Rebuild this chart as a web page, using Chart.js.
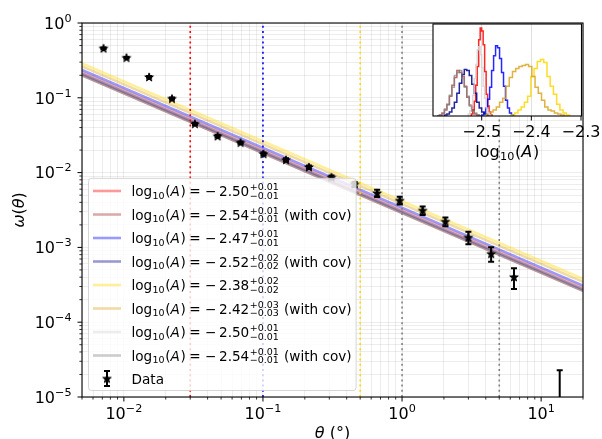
<!DOCTYPE html>
<html>
<head>
<meta charset="utf-8">
<script src="https://cdn.jsdelivr.net/npm/chart.js@4.4.0/dist/chart.umd.min.js"></script>
<style>
  body { margin: 0; background: #fff; }
  #wrap { position: relative; width: 602px; height: 439px; }
  #main { position: absolute; left: 0; top: 0; }
  #inset { position: absolute; left: 420px; top: 0; }
</style>
</head>
<body>
<div id="wrap">
  <canvas id="main" width="602" height="439"></canvas>
  <canvas id="inset" width="182" height="170"></canvas>
</div>
<script>
// measured correlation function, theta in degrees
var theta = [0.00714, 0.01044, 0.01518, 0.02218, 0.0324, 0.0472, 0.069, 0.1009, 0.1465, 0.214,
             0.311, 0.456, 0.662, 0.962, 1.406, 2.05, 3.0, 4.37, 6.38, 13.6];
var omega = [0.459, 0.344, 0.190, 0.0976, 0.0449, 0.0307, 0.0252, 0.0178, 0.01483, 0.01188,
             0.00865, 0.00698, 0.00532, 0.00424, 0.00312, 0.00222, 0.00136, 0.000824, 0.000403, 0.000004];
var omegaErr = [0.01, 0.008, 0.005, 0.003, 0.0015, 0.001, 0.0009, 0.0007, 0.0007, 0.0006,
                0.0005, 0.0005, 0.0006, 0.0005, 0.0004, 0.0003, 0.00026, 0.00018, 0.000125, 0.0000188];

// power law fits  w = A * theta^slope
var fitSlope = -0.8;
var fitLogA = [-2.50, -2.54, -2.47, -2.52, -2.38, -2.42, -2.50, -2.54];
var fitErrUp = [0.01, 0.01, 0.01, 0.02, 0.02, 0.03, 0.01, 0.01];
var fitErrDown = [0.01, 0.01, 0.01, 0.02, 0.02, 0.03, 0.01, 0.01];
var fitCov = [false, true, false, true, false, true, false, true];
var fitColors = ['rgba(255,0,0,0.4)', 'rgba(165,42,42,0.4)', 'rgba(0,0,255,0.4)', 'rgba(0,0,139,0.4)',
                 'rgba(255,215,0,0.4)', 'rgba(218,165,32,0.4)', 'rgba(211,211,211,0.4)', 'rgba(128,128,128,0.4)'];
var histColors = ['rgba(255,0,0,0.85)', 'rgba(165,42,42,0.7)', 'rgba(0,0,255,0.85)', 'rgba(0,0,139,0.85)',
                  'rgba(255,215,0,0.85)', 'rgba(218,165,32,0.85)', 'rgba(211,211,211,0.85)', 'rgba(128,128,128,0.7)'];

// fit ranges
var rangeTheta = [0.03, 0.1, 0.5, 1, 5];
var rangeColors = ['#ff0000', '#0000ff', '#ffd700', '#808080', '#808080'];

// posterior histograms of log10(A)
var histStart = [-2.521, -2.590, -2.500, -2.575, -2.440, -2.490, -2.527, -2.590];
var histBin = [0.003, 0.005, 0.004, 0.005, 0.0065, 0.0065, 0.003, 0.005];
var countsRed = [2, 6, 15, 31, 50, 77, 89, 86, 72, 45, 22, 10, 4, 1];
var countsBrown = [0, 1, 3, 6, 12, 20, 31, 39, 46, 44, 40, 30, 19, 11, 6, 2, 1, 0];
var countsBlue = [1, 3, 8, 17, 29, 46, 61, 71, 69, 58, 44, 30, 16, 8, 3, 1];
var countsNavy = [1, 2, 4, 8, 14, 23, 33, 42, 47, 46, 41, 32, 23, 14, 8, 4, 2, 1];
var countsGold = [1, 3, 6, 9, 14, 20, 40, 48, 55, 57, 54, 40, 30, 22, 12, 6, 3, 1];
var countsGoldenrod = [2, 4, 6, 9, 14, 18, 30, 39, 45, 48, 50, 51, 52, 50, 40, 29, 23, 16, 9, 6, 5, 3, 2, 1];
var countsLightgray = [2, 5, 11, 21, 38, 52, 67, 70, 62, 49, 30, 18, 8, 3, 1];
var countsGray = [0, 1, 2, 7, 11, 21, 29, 41, 44, 46, 38, 29, 20, 10, 5, 3, 1, 0];
var histCounts = [countsRed, countsBrown, countsBlue, countsNavy, countsGold, countsGoldenrod, countsLightgray, countsGray];

// axes
var xRange = [0.005, 20];
var yRange = [1e-5, 1];
var xMajor = [0.01, 0.1, 1, 10];
var xExp = [-2, -1, 0, 1];
var yMajor = [1e-5, 1e-4, 1e-3, 1e-2, 1e-1, 1];
var yExp = [-5, -4, -3, -2, -1, 0];
var insetRange = [-2.598, -2.299];
var insetTicks = [-2.5, -2.4, -2.3];

var FONT = '13.6px "DejaVu Sans"';
var SMALL = '9.5px "DejaVu Sans"';
var ITALIC = 'oblique 13.6px "DejaVu Sans"';
var TICK = '16px "DejaVu Sans"';
var TICK_SMALL = '11.2px "DejaVu Sans"';
var TICK_ITALIC = 'oblique 16px "DejaVu Sans"';

Chart.defaults.font.family = 'DejaVu Sans';
Chart.defaults.color = '#000';

// all 1..9 x 10^n positions inside a range, decades flagged as major
function logTicks(lo, hi) {
  var out = [];
  for (var e = Math.floor(Math.log10(lo)); e <= Math.ceil(Math.log10(hi)); e++) {
    for (var m = 1; m <= 9; m++) {
      var v = m * Math.pow(10, e);
      if (v >= lo * 0.9999 && v <= hi * 1.0001) out.push({ value: v, major: m === 1 });
    }
  }
  return out;
}
function minus(v) { return (v < 0 ? '−' : '') + Math.abs(v); }

var starImg = (function () {
  var c = document.createElement('canvas');
  c.width = 12; c.height = 12;
  var g = c.getContext('2d');
  g.beginPath();
  for (var k = 0; k < 10; k++) {
    var r = k % 2 === 0 ? 4.5 : 4.5 * 0.382;
    var a = -Math.PI / 2 + k * Math.PI / 5;
    var px = 6 + r * Math.cos(a), py = 6.4 + r * Math.sin(a);
    if (k === 0) g.moveTo(px, py); else g.lineTo(px, py);
  }
  g.closePath();
  g.fillStyle = '#000';
  g.fill();
  g.lineWidth = 1;
  g.strokeStyle = '#000';
  g.stroke();
  return c;
})();

var datasets = [];
rangeTheta.forEach(function (t, i) {
  datasets.push({
    data: [{ x: t, y: yRange[0] }, { x: t, y: yRange[1] }],
    borderColor: rangeColors[i], borderWidth: 1.6, borderDash: [2, 3.2],
    pointRadius: 0, order: 10
  });
});
fitLogA.forEach(function (la, i) {
  var A = Math.pow(10, la);
  datasets.push({
    data: [{ x: xRange[0], y: A * Math.pow(xRange[0], fitSlope) },
           { x: xRange[1], y: A * Math.pow(xRange[1], fitSlope) }],
    borderColor: fitColors[i], borderWidth: 2.6, pointRadius: 0, order: 30 - i
  });
});
var dataIndex = datasets.length;
datasets.push({
  data: theta.map(function (t, i) { return { x: t, y: omega[i] }; }),
  showLine: false, pointStyle: starImg, pointRadius: 4, order: 0
});

function putText(ctx, str, x, y, font, draw) {
  ctx.font = font;
  if (draw) ctx.fillText(str, x, y);
  return x + ctx.measureText(str).width;
}
// "log10(A)" with a lowered 10 and italic A
function logA(ctx, x, base, draw, big) {
  var f = big ? TICK : FONT, s = big ? TICK_SMALL : SMALL, it = big ? TICK_ITALIC : ITALIC;
  var k = big ? 16 / 13.6 : 1;
  x = putText(ctx, 'log', x, base, f, draw);
  x = putText(ctx, '10', x + 0.3 * k, base + 2.6 * k, s, draw);
  x = putText(ctx, '(', x + 0.6 * k, base, f, draw);
  x = putText(ctx, 'A', x, base, it, draw);
  x = putText(ctx, ')', x + 0.6 * k, base, f, draw);
  return x;
}
// "10" with a raised exponent
function powWidth(ctx, e) {
  ctx.font = TICK; var w = ctx.measureText('10').width;
  ctx.font = TICK_SMALL; return w + ctx.measureText(minus(e)).width;
}
function drawPow(ctx, e, x, base) {
  x = putText(ctx, '10', x, base, TICK, true);
  putText(ctx, minus(e), x, base - 7, TICK_SMALL, true);
}

var errorBars = {
  id: 'errorBars',
  beforeDatasetDraw: function (chart, args) {
    if (args.index !== dataIndex) return;
    var xs = chart.scales.x, ys = chart.scales.y, ctx = chart.ctx, a = chart.chartArea;
    ctx.save();
    ctx.beginPath();
    ctx.rect(a.left, a.top, a.right - a.left, a.bottom - a.top);
    ctx.clip();
    ctx.strokeStyle = '#000';
    ctx.lineWidth = 2;
    for (var i = 0; i < theta.length; i++) {
      var px = xs.getPixelForValue(theta[i]);
      var yHi = ys.getPixelForValue(omega[i] + omegaErr[i]);
      var lo = omega[i] - omegaErr[i];
      var yLo = lo > 0 ? ys.getPixelForValue(lo) : a.bottom + 4;
      ctx.beginPath();
      ctx.moveTo(px, yHi); ctx.lineTo(px, yLo);
      ctx.moveTo(px - 3, yHi); ctx.lineTo(px + 3, yHi);
      if (lo > 0) { ctx.moveTo(px - 3, yLo); ctx.lineTo(px + 3, yLo); }
      ctx.stroke();
    }
    ctx.restore();
  }
};

function legendRow(ctx, i, x, base, draw) {
  x = logA(ctx, x, base, draw, false);
  x = putText(ctx, '=', x + 3.5, base, FONT, draw);
  x = putText(ctx, '−', x + 4.5, base, FONT, draw);
  x = putText(ctx, Math.abs(fitLogA[i]).toFixed(2), x + 2.5, base, FONT, draw);
  var x1 = putText(ctx, '+' + fitErrUp[i].toFixed(2), x + 0.5, base - 5.9, SMALL, draw);
  var x2 = putText(ctx, '−' + fitErrDown[i].toFixed(2), x + 0.5, base + 2.8, SMALL, draw);
  x = Math.max(x1, x2);
  if (fitCov[i]) x = putText(ctx, ' (with cov)', x + 0.8, base, FONT, draw);
  return x;
}

var legendBox = {
  id: 'legendBox',
  afterDatasetsDraw: function (chart) {
    var ctx = chart.ctx, a = chart.chartArea;
    var left = a.left + 6.5, bottom = a.bottom - 6.5, top = 178.3;
    var rowY = [191, 214.5, 238, 261.5, 285, 308.5, 332, 355.5, 378.5];
    var textX = left + 43;
    ctx.save();
    // widest row decides the frame width
    var maxEnd = 0;
    fitLogA.forEach(function (v, i) { maxEnd = Math.max(maxEnd, legendRow(ctx, i, textX, 0, false)); });
    var right = maxEnd + 4.5;
    ctx.beginPath();
    ctx.roundRect(left, top, right - left, bottom - top, 3);
    ctx.fillStyle = 'rgba(255,255,255,0.8)';
    ctx.fill();
    ctx.lineWidth = 1;
    ctx.strokeStyle = 'rgba(204,204,204,0.8)';
    ctx.stroke();

    ctx.fillStyle = '#000';
    ctx.textBaseline = 'alphabetic';
    fitLogA.forEach(function (v, i) {
      var y = rowY[i];
      ctx.strokeStyle = fitColors[i];
      ctx.lineWidth = 2.6;
      ctx.beginPath(); ctx.moveTo(left + 4.5, y); ctx.lineTo(left + 32.5, y); ctx.stroke();
      legendRow(ctx, i, textX, y + 5, true);
    });
    // errorbar handle
    var hx = left + 18.5, hy = rowY[8];
    ctx.strokeStyle = '#000';
    ctx.lineWidth = 2;
    ctx.beginPath();
    ctx.moveTo(hx, hy - 7.5); ctx.lineTo(hx, hy + 7.5);
    ctx.moveTo(hx - 3, hy - 7.5); ctx.lineTo(hx + 3, hy - 7.5);
    ctx.moveTo(hx - 3, hy + 7.5); ctx.lineTo(hx + 3, hy + 7.5);
    ctx.stroke();
    ctx.drawImage(starImg, hx - 6, hy - 6);
    putText(ctx, 'Data', textX, hy + 5, FONT, true);
    ctx.restore();
  }
};

function frameAndTicks(chart, sides) {
  var ctx = chart.ctx, a = chart.chartArea;
  ctx.save();
  ctx.strokeStyle = '#000';
  if (sides.x) {
    chart.scales.x.ticks.forEach(function (t) {
      var p = chart.scales.x.getPixelForValue(t.value);
      ctx.lineWidth = t.major === false ? 0.8 : 1;
      ctx.beginPath(); ctx.moveTo(p, a.bottom); ctx.lineTo(p, a.bottom + (t.major === false ? 2.6 : 4.5)); ctx.stroke();
    });
  }
  if (sides.y) {
    chart.scales.y.ticks.forEach(function (t) {
      var p = chart.scales.y.getPixelForValue(t.value);
      ctx.lineWidth = t.major ? 1 : 0.8;
      ctx.beginPath(); ctx.moveTo(a.left, p); ctx.lineTo(a.left - (t.major ? 4.5 : 2.6), p); ctx.stroke();
    });
  }
  ctx.lineWidth = 1.1;
  ctx.strokeRect(a.left, a.top, a.right - a.left, a.bottom - a.top);
  ctx.restore();
}

var axisText = {
  id: 'axisText',
  afterDraw: function (chart) {
    var ctx = chart.ctx, a = chart.chartArea, xs = chart.scales.x, ys = chart.scales.y;
    frameAndTicks(chart, { x: true, y: true });
    ctx.save();
    ctx.fillStyle = '#000';
    ctx.textBaseline = 'alphabetic';
    xMajor.forEach(function (v, i) {
      var w = powWidth(ctx, xExp[i]);
      drawPow(ctx, xExp[i], xs.getPixelForValue(v) - w / 2, a.bottom + 21.5);
    });
    yMajor.forEach(function (v, i) {
      var w = powWidth(ctx, yExp[i]);
      drawPow(ctx, yExp[i], a.left - 10.5 - w, ys.getPixelForValue(v) + 5.8);
    });
    // x title: theta (deg)
    ctx.font = TICK_ITALIC; var w1 = ctx.measureText('θ').width;
    ctx.font = TICK; var w2 = ctx.measureText(' (°)').width;
    var x0 = (a.left + a.right) / 2 - (w1 + w2) / 2;
    x0 = putText(ctx, 'θ', x0, 438.3, TICK_ITALIC, true);
    putText(ctx, ' (°)', x0, 438.3, TICK, true);
    // y title: omega(theta), rotated
    ctx.translate(23.5, (a.top + a.bottom) / 2);
    ctx.rotate(-Math.PI / 2);
    var parts = [['ω', TICK_ITALIC], ['(', TICK], ['θ', TICK_ITALIC], [')', TICK]];
    var tw = 0;
    parts.forEach(function (p) { ctx.font = p[1]; tw += ctx.measureText(p[0]).width; });
    var xx = -tw / 2;
    parts.forEach(function (p) { xx = putText(ctx, p[0], xx, 0, p[1], true); });
    ctx.restore();
  }
};

var mainChart = new Chart(document.getElementById('main'), {
  type: 'line',
  data: { datasets: datasets },
  options: {
    responsive: false,
    animation: false,
    events: [],
    layout: { padding: { left: 0, top: 23, right: 19, bottom: 0 } },
    plugins: { legend: { display: false }, tooltip: { enabled: false } },
    scales: {
      x: {
        type: 'logarithmic', min: xRange[0], max: xRange[1],
        afterBuildTicks: function (s) { s.ticks = logTicks(xRange[0], xRange[1]); },
        afterFit: function (s) { s.height = 42; },
        ticks: { display: false, autoSkip: false },
        grid: { drawTicks: false, color: 'rgba(0,0,0,0.07)' },
        border: { display: false }
      },
      y: {
        type: 'logarithmic', min: yRange[0], max: yRange[1],
        afterBuildTicks: function (s) { s.ticks = logTicks(yRange[0], yRange[1]); },
        afterFit: function (s) { s.width = 82; },
        ticks: { display: false, autoSkip: false },
        grid: { drawTicks: false, color: 'rgba(0,0,0,0.07)' },
        border: { display: false }
      }
    }
  },
  plugins: [errorBars, legendBox, axisText]
});

// inset: step outlines of the log10(A) posteriors
var histSets = histCounts.map(function (counts, i) {
  var pts = [{ x: histStart[i], y: 0 }];
  counts.forEach(function (h, k) { pts.push({ x: histStart[i] + k * histBin[i], y: h }); });
  pts.push({ x: histStart[i] + counts.length * histBin[i], y: 0 });
  return {
    data: pts, stepped: 'before', borderColor: histColors[i], borderWidth: 1.5,
    pointRadius: 0, order: 10 - i
  };
});

var insetChart = new Chart(document.getElementById('inset'), {
  type: 'line',
  data: { datasets: histSets },
  options: {
    responsive: false,
    animation: false,
    events: [],
    layout: { padding: { left: 13, top: 24, right: 20.5, bottom: 0 } },
    plugins: { legend: { display: false }, tooltip: { enabled: false } },
    scales: {
      x: {
        type: 'linear', min: insetRange[0], max: insetRange[1],
        afterBuildTicks: function (s) { s.ticks = insetTicks.map(function (v) { return { value: v }; }); },
        afterFit: function (s) { s.height = 54; },
        ticks: { display: false, autoSkip: false },
        grid: { drawTicks: false, color: 'rgba(0,0,0,0.12)' },
        border: { display: false }
      },
      y: { min: 0, max: 93, display: false }
    }
  },
  plugins: [{
    id: 'insetFrame',
    beforeDraw: function (c) {
      var a = c.chartArea;
      c.ctx.save();
      c.ctx.fillStyle = '#fff';
      c.ctx.fillRect(a.left, a.top, a.right - a.left, a.bottom - a.top);
      c.ctx.restore();
    },
    afterDraw: function (c) {
      frameAndTicks(c, { x: true, y: false });
      var ctx = c.ctx, a = c.chartArea;
      ctx.save();
      ctx.fillStyle = '#000';
      ctx.textBaseline = 'alphabetic';
      ctx.textAlign = 'center';
      insetTicks.forEach(function (v) {
        ctx.font = TICK;
        ctx.fillText(minus(v.toFixed(1)), c.scales.x.getPixelForValue(v), a.bottom + 21.3);
      });
      ctx.textAlign = 'left';
      var w = logA(ctx, 0, 0, false, true);
      logA(ctx, (a.left + a.right) / 2 - w / 2, 156.5, true, true);
      ctx.restore();
    }
  }]
});
</script>
</body>
</html>
